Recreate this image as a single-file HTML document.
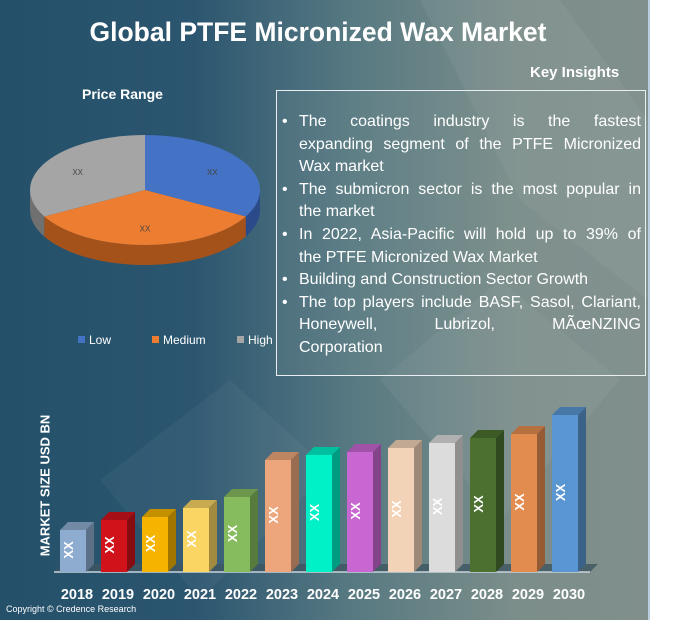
<!DOCTYPE html>
<html><head><meta charset="utf-8"><style>
body{margin:0;width:690px;height:624px;background:#fff;overflow:hidden;font-family:"Liberation Sans",sans-serif}
#panel{position:absolute;left:0;top:0;width:648px;height:620px;background:linear-gradient(90deg,#24506a 0%,#2c5670 30%,#587a82 55%,#7c8e8a 80%,#808f8b 100%);border-right:2px solid #b9cde0;overflow:hidden}
.t{position:absolute;color:#fff}
#box{position:absolute;left:276px;top:90px;width:368px;height:284px;border:1px solid #e8eef2;background:rgba(140,160,160,0.15)}
#box ul{margin:0;padding:0 4px 0 22px;list-style:none;color:#fff;font-size:16px;line-height:22.6px;position:absolute;top:20px;left:0;right:0}
#box li{position:relative}
#box li:before{content:"•";position:absolute;left:-17px}
#box span{display:block;white-space:nowrap}
#box span.j{text-align:justify;text-align-last:justify;white-space:normal}
</style></head><body>
<div id="panel">
<svg width="648" height="620" style="position:absolute;left:0;top:0">
<polygon points="420,0 560,0 648,120 648,300 520,200" fill="#fff" opacity="0.05"/>
<polygon points="380,380 500,280 620,380 500,520" fill="#fff" opacity="0.05"/>
<polygon points="100,480 230,380 330,470 200,600" fill="#fff" opacity="0.04"/>
</svg>
<div class="t" style="left:0;width:636px;top:17px;text-align:center;font-size:26.5px;font-weight:bold">Global PTFE Micronized Wax Market</div>
<div class="t" style="left:82px;top:86px;font-size:14px;font-weight:bold">Price Range</div>
<div class="t" style="left:530px;top:64px;font-size:15px;font-weight:bold">Key Insights</div>
<div id="box"><ul>
<li><span class="j">The coatings industry is the fastest</span><span class="j">expanding segment of the PTFE Micronized</span><span>Wax market</span></li>
<li><span class="j">The submicron sector is the most popular in</span><span>the market</span></li>
<li><span class="j">In 2022, Asia-Pacific will hold up to 39% of</span><span>the PTFE Micronized Wax Market</span></li>
<li><span>Building and Construction Sector Growth</span></li>
<li><span class="j">The top players include BASF, Sasol, Clariant,</span><span class="j">Honeywell, Lubrizol, MÃœNZING</span><span>Corporation</span></li>
</ul></div>
<svg id="pie" width="280" height="300" style="position:absolute;left:0;top:100px"></svg>
<svg id="bars" width="648" height="250" style="position:absolute;left:0;top:370px"></svg>
<div class="t" style="left:-30px;top:478px;width:150px;text-align:center;transform:rotate(-90deg);font-size:13px;font-weight:bold">MARKET SIZE USD BN</div>
<div class="t" style="left:6px;top:604px;font-size:9px">Copyright © Credence Research</div>
</div>
<script>
const pieLabels=["Low","Medium","High"];
const pieValues=[33,34,33];
const pieColors=["#4472c4","#ed7d31","#a5a5a5"];
const pieDark=["#2a4a8a","#a5521a","#707070"];
const years=["2018","2019","2020","2021","2022","2023","2024","2025","2026","2027","2028","2029","2030"];
const values=[4.2,5.2,5.5,6.4,7.5,11.2,11.7,12.0,12.4,12.9,13.4,13.8,15.7];
const barColors=["#8eacd0","#d0121b","#f6b400","#fad564","#86bb5e","#eda67c","#00f0c8","#c867d2","#f3d3b8","#dcdcdc","#4b7030","#e38c50","#5a96d2"];
const NS="http://www.w3.org/2000/svg";
function mk(p,tag,a){const e=document.createElementNS(NS,tag);for(const k in a)e.setAttribute(k,a[k]);p.appendChild(e);return e;}
function shade(c,f){const n=parseInt(c.slice(1),16);const r=Math.round(((n>>16)&255)*f),g=Math.round(((n>>8)&255)*f),b=Math.round((n&255)*f);return "rgb("+r+","+g+","+b+")";}
(function(){
const s=document.getElementById('pie');
const cx=145,cy=90,rx=115,ry=55,d=20;
const tot=pieValues.reduce((a,b)=>a+b,0);
const pt=(a,dy)=>[cx+rx*Math.sin(a),cy-ry*Math.cos(a)+(dy||0)];
let a0=0;const segs=[];
pieValues.forEach((v,i)=>{const a1=a0+v/tot*2*Math.PI;segs.push([a0,a1]);a0=a1;});
segs.forEach(([s0,s1],i)=>{
 const lo=Math.max(s0,Math.PI/2),hi=Math.min(s1,3*Math.PI/2);
 if(hi>lo){const p0=pt(lo),p1=pt(hi);
  const side=mk(s,'path',{d:`M${p0[0]},${p0[1]} A${rx},${ry} 0 0 1 ${p1[0]},${p1[1]} L${p1[0]},${p1[1]+d} A${rx},${ry} 0 0 0 ${p0[0]},${p0[1]+d} Z`,fill:pieDark[i]});
  
  }
});
segs.forEach(([s0,s1],i)=>{
 const p0=pt(s0),p1=pt(s1);const large=(s1-s0)>Math.PI?1:0;
 const sl=mk(s,'path',{d:`M${cx},${cy} L${p0[0]},${p0[1]} A${rx},${ry} 0 ${large} 1 ${p1[0]},${p1[1]} Z`,fill:pieColors[i]});
 
 
 const m=(s0+s1)/2;const lp=[cx+rx*0.68*Math.sin(m),cy-ry*0.68*Math.cos(m)+4];
 const t=mk(s,'text',{x:lp[0],y:lp[1],'font-size':8,fill:'#444','text-anchor':'middle'});t.textContent='XX';
 
 
});
const lx=[78,152,237];
pieLabels.forEach((l,i)=>{
 const r=mk(s,'rect',{x:lx[i],y:236,width:7,height:7,fill:pieColors[i]});
 
 
 const t=mk(s,'text',{x:lx[i]+11,y:244,'font-size':12,fill:'#fff'});t.textContent=l;
 
 
});
})();
(function(){
const s=document.getElementById('bars');
const base=202,x0=60,step=41,w=26,dx=8,dy=8,k=10;
const y=v=>base-v*k;
mk(s,'polygon',{points:`54,${base} 590,${base} 598,${base-8} 62,${base-8}`,fill:'#3d5560',opacity:0.8});
mk(s,'line',{x1:54,y1:base,x2:590,y2:base,stroke:'#c8d4dc','stroke-width':1.5});
values.forEach((v,i)=>{
 const x=x0+i*step,t=y(v),c=barColors[i];
 const g=mk(s,'g',{});
 
 
 mk(g,'polygon',{points:`${x+w},${t} ${x+w+dx},${t-dy} ${x+w+dx},${base-dy} ${x+w},${base}`,fill:shade(c,0.65)});
 mk(g,'polygon',{points:`${x},${t} ${x+dx},${t-dy} ${x+w+dx},${t-dy} ${x+w},${t}`,fill:shade(c,0.8)});
 mk(g,'rect',{x:x,y:t,width:w,height:base-t,fill:c});
 const cy=(t+base)/2+4;
 const lb=mk(s,'text',{x:x+w/2+5,y:cy,'font-size':13,'font-weight':'bold',fill:'#fff','text-anchor':'middle',transform:`rotate(-90 ${x+w/2} ${cy})`});
 lb.textContent='XX';
 
 
 const yl=mk(s,'text',{x:x+w/2+4,y:229,'font-size':14.5,'font-weight':'bold',fill:'#fff','text-anchor':'middle'});
 yl.textContent=years[i];
 
 
});
})();
</script>
</body></html>
